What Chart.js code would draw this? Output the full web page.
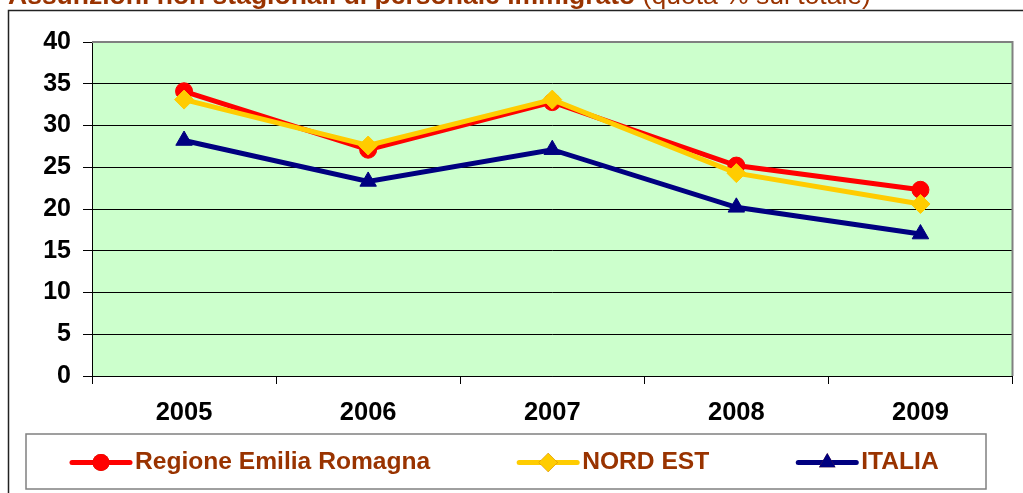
<!DOCTYPE html>
<html>
<head>
<meta charset="utf-8">
<title>Assunzioni non stagionali di personale immigrato</title>
<script src="https://cdn.jsdelivr.net/npm/chart.js"></script>
<style>
  html, body { margin: 0; padding: 0; background: #fff; }
</style>
</head>
<body>
<canvas id="chart" width="1023" height="493"></canvas>
<script>
// dati (quota % sul totale)
const anni = ['2005', '2006', '2007', '2008', '2009'];
const emiliaRomagna = [34.1, 27.1, 32.8, 25.2, 22.3];
const nordEst = [33.1, 27.6, 33.1, 24.3, 20.6];
const italia = [28.2, 23.3, 27.1, 20.2, 17.0];
const yMin = 0, yMax = 40, yStep = 5;

const titoloBold = 'Assunzioni non stagionali di personale immigrato';
const titoloNormale = ' (quota % sul totale)';
const FONT = '"Liberation Sans", Arial, sans-serif';
const BROWN = '#993300';

// sfondo verde dell'area del grafico + bordi, titolo (tagliato in alto) e legenda in riquadro
const decorPlugin = {
  id: 'decor',
  beforeDraw(chart) {
    const { ctx, chartArea: a } = chart;
    ctx.save();
    ctx.fillStyle = '#CCFFCC';
    ctx.fillRect(a.left, a.top, a.right - a.left, a.bottom - a.top);
    ctx.restore();
  },
  afterDatasetsDraw(chart) {
    const { ctx, chartArea: a } = chart;
    ctx.save();
    // bordo grigio sopra e a destra
    ctx.strokeStyle = '#808080';
    ctx.lineWidth = 2;
    ctx.beginPath();
    ctx.moveTo(a.left, a.top);
    ctx.lineTo(a.right, a.top);
    ctx.lineTo(a.right, a.bottom);
    ctx.stroke();
    ctx.restore();
  },
  afterDraw(chart) {
    const { ctx } = chart;
    ctx.save();
    // titolo, in parte fuori dall'immagine
    ctx.textBaseline = 'alphabetic';
    ctx.fillStyle = BROWN;
    ctx.font = 'bold 26.5px ' + FONT;
    ctx.fillText(titoloBold, 8, 4);
    const w = ctx.measureText(titoloBold).width;
    ctx.font = '26.5px ' + FONT;
    ctx.fillText(titoloNormale, 8 + w, 4);

    // cornice esterna del grafico
    ctx.strokeStyle = '#222';
    ctx.lineWidth = 1.5;
    ctx.beginPath();
    ctx.moveTo(8.5, 500);
    ctx.lineTo(8.5, 10.5);
    ctx.lineTo(1030, 10.5);
    ctx.stroke();

    // legenda
    const box = { l: 26, t: 434, r: 986, b: 489 };
    ctx.strokeStyle = '#808080';
    ctx.lineWidth = 1.5;
    ctx.strokeRect(box.l, box.t, box.r - box.l, box.b - box.t);
    ctx.font = 'bold 24.6px ' + FONT;
    ctx.textBaseline = 'middle';
    const cy = (box.t + box.b) / 2 + 1;
    let x = 72;
    chart.data.datasets.forEach(ds => {
      ctx.strokeStyle = ds.borderColor;
      ctx.lineWidth = ds.borderWidth;
      ctx.lineCap = 'round';
      ctx.beginPath();
      ctx.moveTo(x, cy);
      ctx.lineTo(x + 58, cy);
      ctx.stroke();
      Chart.helpers.drawPoint(ctx, {
        pointStyle: ds.pointStyle,
        radius: ds.pointRadius,
        rotation: 0,
        borderWidth: 0
      }, x + 29, cy);
      ctx.fillStyle = ds.pointBackgroundColor;
      ctx.fill();
      ctx.fillStyle = BROWN;
      ctx.fillText(ds.label, x + 63, cy);
      x += 63 + ctx.measureText(ds.label).width + 89;
    });
    ctx.restore();
  }
};

const serie = (label, data, color, style, r, order) => ({
  label, data, order,
  borderColor: color,
  backgroundColor: color,
  pointBackgroundColor: color,
  pointBorderColor: color,
  borderWidth: 5,
  pointStyle: style,
  pointRadius: r,
  pointHoverRadius: r,
  pointBorderWidth: 1,
  tension: 0
});

new Chart(document.getElementById('chart'), {
  type: 'line',
  data: {
    labels: anni,
    datasets: [
      serie('Regione Emilia Romagna', emiliaRomagna, '#FF0000', 'circle', 8.5, 3),
      serie('NORD EST', nordEst, '#FFCC00', 'rectRot', 9.5, 2),
      serie('ITALIA', italia, '#000080', 'triangle', 9.5, 1)
    ]
  },
  options: {
    responsive: false,
    animation: false,
    layout: { padding: { top: 42, left: 0, right: 9, bottom: 59 } },
    plugins: {
      legend: { display: false },
      title: { display: false },
      tooltip: { enabled: false }
    },
    scales: {
      x: {
        offset: true,
        grid: {
          offset: true,
          drawOnChartArea: false,
          drawTicks: true,
          tickLength: 8,
          tickColor: '#000'
        },
        border: { color: '#000', width: 1 },
        ticks: {
          color: '#000',
          padding: 14,
          font: { family: FONT, size: 25.5, weight: 'bold' }
        },
        afterFit(s) { s.height = 58; }
      },
      y: {
        min: yMin,
        max: yMax,
        grid: {
          color: '#000',
          lineWidth: 1,
          tickLength: 9,
          tickColor: '#000'
        },
        border: { color: '#000', width: 1 },
        ticks: {
          stepSize: yStep,
          color: '#000',
          padding: 12,
          font: { family: FONT, size: 25, weight: 'bold' }
        },
        afterFit(s) { s.width = 92; }
      }
    }
  },
  plugins: [decorPlugin]
});
</script>
</body>
</html>
